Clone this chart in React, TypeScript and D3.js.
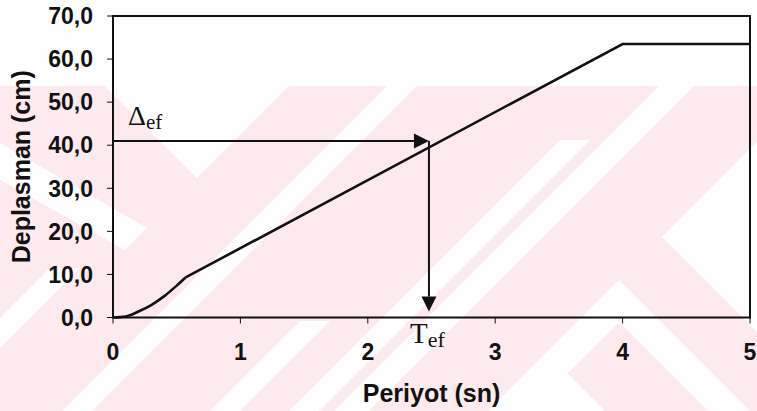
import React from "react";
import * as d3 from "d3";

// ---- data ----
const periods = [0, 0.1, 0.2, 0.3, 0.4, 0.5, 0.57];
const displacements = [0, 0.25, 1.4, 2.9, 4.9, 7.4, 9.3];
const periodsLinear = [0.57, 4, 5];
const displacementsLinear = [9.3, 63.5, 63.5];
const xTicks = [0, 1, 2, 3, 4, 5];
const yTicks = [0, 10, 20, 30, 40, 50, 60, 70];
const effectivePeriod = 2.48;
const effectiveDisplacement = 41;
const xTitle = "Periyot (sn)";
const yTitle = "Deplasman (cm)";

// decorative background watermark (pixel polygons)
const whiteShapes: [number, number][][] = [
  [[105, 86], [289, 86], [197, 178]],
  [[0, 143], [147, 228], [125, 250], [0, 180]],
  [[387, 86], [417, 86], [92, 411], [62, 411]],
  [[560, 140], [590, 140], [319, 411], [289, 411]],
  [[659, 86], [694, 86], [369, 411], [334, 411]],
  [[757, 142], [662, 237], [757, 332]],
  [[619, 280], [757, 418], [757, 460], [619, 322], [530, 411], [488, 411]],
  [[0, 318], [50, 268], [80, 268], [0, 348]],
  [[547, 353], [605, 411], [489, 411]],
  [[210, 411], [300, 321], [330, 321], [240, 411]],
];

const W = 757;
const H = 411;
const M = { left: 113, right: 750, top: 16, bottom: 317.5 };

export default function App() {
  const x = d3.scaleLinear().domain([0, 5]).range([M.left, M.right]);
  const y = d3.scaleLinear().domain([0, 70]).range([M.bottom, M.top]);

  const early = periods.map((p, i) => [p, displacements[i]] as [number, number]);
  const late = periodsLinear.map((p, i) => [p, displacementsLinear[i]] as [number, number]);
  const lineCurve = d3
    .line<[number, number]>()
    .x((d) => x(d[0]))
    .y((d) => y(d[1]))
    .curve(d3.curveMonotoneX);
  const lineStraight = d3
    .line<[number, number]>()
    .x((d) => x(d[0]))
    .y((d) => y(d[1]));

  const fmt = (v: number) => v.toFixed(1).replace(".", ",");

  const ex = x(effectivePeriod);
  const ey = y(effectiveDisplacement);
  const headLen = 15;
  const headHalf = 7.5;
  const vTip = y(0) - 6;

  const sans = "'Liberation Sans', Arial, sans-serif";
  const serif = "'Liberation Serif', 'Times New Roman', serif";

  return (
    <svg
      width={W}
      height={H}
      style={{ position: "absolute", left: 0, top: 0, background: "#fff" }}
    >
      {/* watermark */}
      <rect x={0} y={86} width={W} height={H - 86} fill="#fdeaee" />
      {whiteShapes.map((pts, i) => (
        <polygon key={i} points={pts.map((p) => p.join(",")).join(" ")} fill="#ffffff" />
      ))}

      {/* frame */}
      <rect
        x={M.left}
        y={M.top}
        width={M.right - M.left}
        height={M.bottom - M.top}
        fill="none"
        stroke="#111"
        strokeWidth={2}
      />

      {/* y ticks */}
      {yTicks.map((t) => (
        <g key={"y" + t}>
          <line x1={M.left - 6} x2={M.left} y1={y(t)} y2={y(t)} stroke="#111" strokeWidth={1} />
          <text
            x={93}
            y={y(t)}
            dy="0.36em"
            textAnchor="end"
            fontFamily={sans}
            fontWeight="bold"
            fontSize={23}
            fill="#111"
          >
            {fmt(t)}
          </text>
        </g>
      ))}

      {/* x ticks */}
      {xTicks.map((t) => (
        <g key={"x" + t}>
          <line x1={x(t)} x2={x(t)} y1={M.bottom} y2={M.bottom + 6} stroke="#111" strokeWidth={1} />
          <text
            x={x(t)}
            y={360}
            textAnchor="middle"
            fontFamily={sans}
            fontWeight="bold"
            fontSize={23}
            fill="#111"
          >
            {t}
          </text>
        </g>
      ))}

      {/* axis titles */}
      <text
        x={(M.left + M.right) / 2}
        y={402}
        textAnchor="middle"
        fontFamily={sans}
        fontWeight="bold"
        fontSize={25}
        fill="#111"
      >
        {xTitle}
      </text>
      <text
        transform={`translate(30,${(M.top + M.bottom) / 2}) rotate(-90)`}
        textAnchor="middle"
        fontFamily={sans}
        fontWeight="bold"
        fontSize={25}
        fill="#111"
      >
        {yTitle}
      </text>

      {/* curve */}
      <path d={lineCurve(early) ?? ""} fill="none" stroke="#111" strokeWidth={2.6} />
      <path d={lineStraight(late) ?? ""} fill="none" stroke="#111" strokeWidth={2.6} />

      {/* effective arrows */}
      <line x1={x(0)} x2={ex - headLen} y1={ey} y2={ey} stroke="#111" strokeWidth={2} />
      <polygon
        points={`${ex},${ey} ${ex - headLen},${ey - headHalf} ${ex - headLen},${ey + headHalf}`}
        fill="#111"
      />
      <line x1={ex} x2={ex} y1={ey} y2={vTip - headLen} stroke="#111" strokeWidth={2} />
      <polygon
        points={`${ex},${vTip} ${ex - headHalf},${vTip - headLen} ${ex + headHalf},${vTip - headLen}`}
        fill="#111"
      />

      {/* labels */}
      <text x={128} y={125} fontFamily={serif} fontSize={28} fill="#111">
        Δ<tspan fontSize={21} dy={4}>ef</tspan>
      </text>
      <text x={410} y={343} fontFamily={serif} fontSize={29} fill="#111">
        T<tspan fontSize={22} dy={4}>ef</tspan>
      </text>
    </svg>
  );
}
